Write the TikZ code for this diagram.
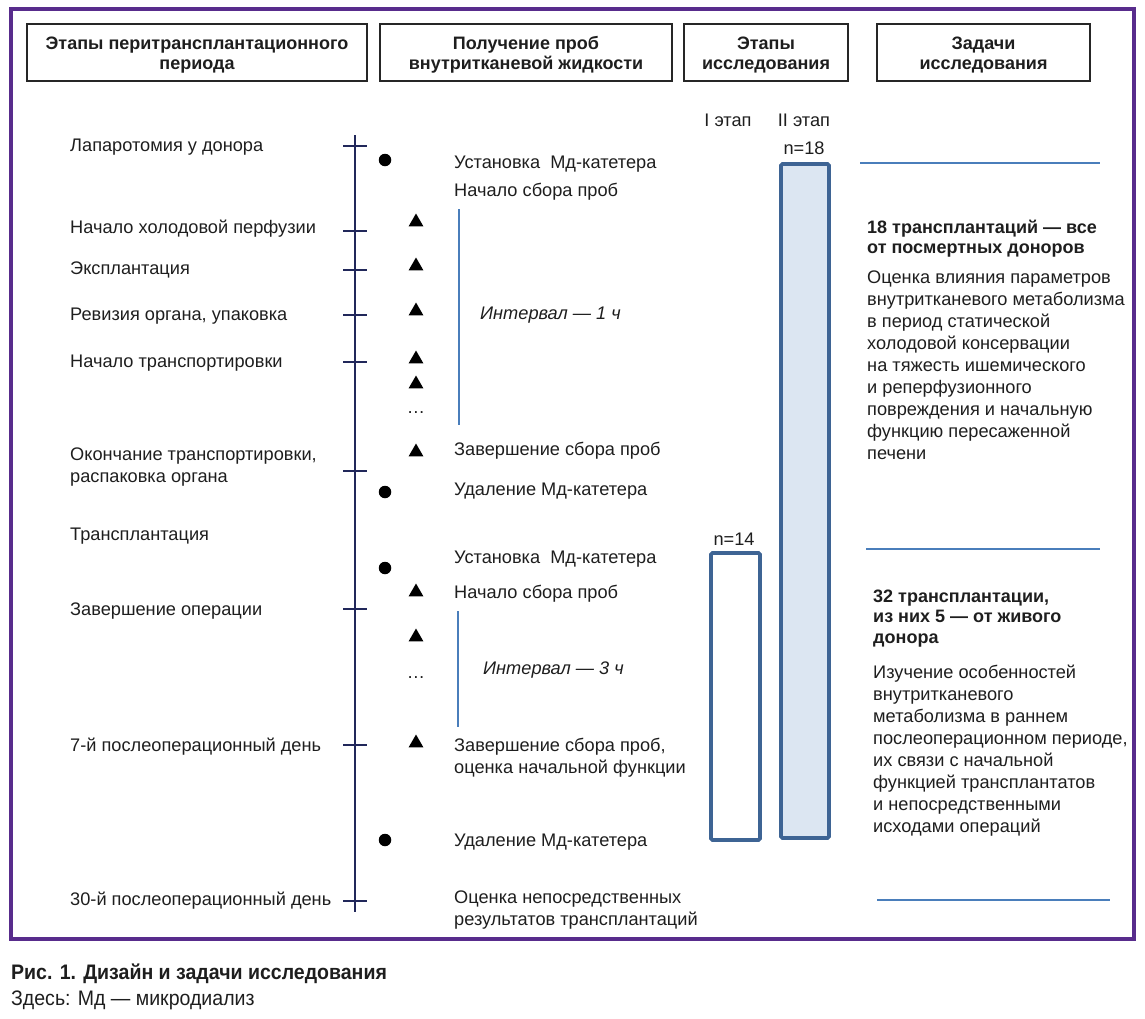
\documentclass[tikz,border=0pt]{standalone}
\usepackage{fontspec}
\setmainfont{Liberation Sans}
\newfontfamily\capfont{Liberation Sans}[FakeStretch=0.93]
\usetikzlibrary{shapes.geometric}
\definecolor{framecol}{RGB}{88,44,140}
\definecolor{navy}{RGB}{33,40,90}
\definecolor{barline}{RGB}{62,100,148}
\definecolor{barfill}{RGB}{220,230,242}
\definecolor{sepblue}{RGB}{74,126,187}
\definecolor{txt}{RGB}{30,30,30}
\tikzset{
  txtf/.style={font=\fontsize{18.2}{22}\selectfont, text=txt, inner sep=0pt},
  lbl/.style={txtf, anchor=base west},
  blk/.style={txtf, anchor=north west, align=left},
  boldblk/.style={inner sep=0pt, text=txt, anchor=north west, align=left, font=\fontsize{18}{20.5}\selectfont\bfseries},
  hbox/.style={draw=black!85, line width=1.2pt, minimum height=57pt, inner sep=0pt},
  htext/.style={align=center, text=txt, inner sep=0pt, font=\fontsize{18}{20}\selectfont\bfseries, yshift=-2.5pt},
  dot/.style={circle, fill=black, inner sep=0pt, minimum size=12.5pt},
  tri/.style={regular polygon, regular polygon sides=3, fill=black, inner sep=0pt, minimum size=17pt},
  tick/.style={navy, line width=2.8pt},
  ival/.style={sepblue, line width=1.6pt},
  sep/.style={sepblue, line width=2.2pt},
  itl/.style={txtf, font=\fontsize{18.2}{22}\selectfont\itshape, anchor=base west},
  bar/.style={draw=barline, line width=3.8pt, rounded corners=1.5pt}
}
\begin{document}
\begin{tikzpicture}[x=1pt,y=-1pt]
\useasboundingbox (0,0) rectangle (1145,1018);
% outer frame
\draw[framecol, line width=3.6pt] (11,9) rectangle (1134,939);
% headers
\node[hbox, minimum width=340pt] (h1) at (197,52.5) {};
\node[hbox, minimum width=292pt] (h2) at (526,52.5) {};
\node[hbox, minimum width=164pt] (h3) at (766,52.5) {};
\node[hbox, minimum width=213pt] (h4) at (983.5,52.5) {};
\node[htext] (h1t) at (h1.center) {Этапы перитрансплантационного\\периода};
\node[htext] (h2t) at (h2.center) {Получение проб\\внутритканевой жидкости};
\node[htext] (h3t) at (h3.center) {Этапы\\исследования};
\node[htext] (h4t) at (h4.center) {Задачи\\исследования};
% timeline
\coordinate (tl0) at (355,135);
\coordinate (tl1) at (355,912);
\draw[navy, line width=2.6pt] (tl0) -- (tl1);
\foreach \y/\n in {146/a,231/b,270/c,315/d,362/e,471/f,609/g,745/h,901/i}{
  \coordinate (tka\n) at (343,\y);
  \coordinate (tkb\n) at (367,\y);
  \draw[tick] (tka\n) -- (tkb\n);
}
% left labels
\node[lbl] (l1) at (70,151) {Лапаротомия у донора};
\node[lbl] (l2) at (70,233) {Начало холодовой перфузии};
\node[lbl] (l3) at (70,274) {Эксплантация};
\node[lbl] (l4) at (70,320) {Ревизия органа, упаковка};
\node[lbl] (l5) at (70,367) {Начало транспортировки};
\node[blk] (l6) at (70,447.5) {Окончание транспортировки,\\распаковка органа};
\node[lbl] (l7) at (70,540) {Трансплантация};
\node[lbl] (l8) at (70,615) {Завершение операции};
\node[lbl] (l9) at (70,751) {7-й послеоперационный день};
\node[lbl] (l10) at (70,905) {30-й послеоперационный день};
% circles
\node[dot] (c1) at (385,160) {};
\node[dot] (c2) at (385,492) {};
\node[dot] (c3) at (385,568) {};
\node[dot] (c4) at (385,840) {};
% triangles
\foreach \y/\n in {222/1,266/2,311/3,359/4,384/5,452/6,592/7,637/8,743/9}{
  \node[tri] (tr\n) at (416,\y) {};
}
\node[txtf, anchor=base] (dd1) at (416,413) {…};
\node[txtf, anchor=base] (dd2) at (416,678) {…};
% interval lines
\coordinate (i1a) at (459,209);
\coordinate (i1b) at (459,425);
\draw[ival] (i1a) -- (i1b);
\coordinate (i2a) at (458,611);
\coordinate (i2b) at (458,727);
\draw[ival] (i2a) -- (i2b);
\node[itl] (it1) at (480,319) {Интервал — 1 ч};
\node[itl] (it2) at (483,674) {Интервал — 3 ч};
% middle labels
\node[lbl] (m1) at (454,168) {Установка\ \ Мд-катетера};
\node[lbl] (m2) at (454,196) {Начало сбора проб};
\node[lbl] (m3) at (454,455) {Завершение сбора проб};
\node[lbl] (m4) at (454,495) {Удаление Мд-катетера};
\node[lbl] (m5) at (454,563) {Установка\ \ Мд-катетера};
\node[lbl] (m6) at (454,598) {Начало сбора проб};
\node[blk] (m7) at (454,738) {Завершение сбора проб,\\оценка начальной функции};
\node[lbl] (m8) at (454,846) {Удаление Мд-катетера};
\node[blk] (m9) at (454,891) {Оценка непосредственных\\результатов трансплантаций};
% study stages
\node[txtf, anchor=base] (s1) at (728,126) {I этап};
\node[txtf, anchor=base] (s2) at (804,126) {II этап};
\node[txtf, anchor=base] (n18) at (804,154) {n=18};
\node[txtf, anchor=base] (n14) at (734,545) {n=14};
\draw[bar, fill=barfill] (781,164) rectangle (829,838);
\draw[bar, fill=white] (711,553) rectangle (760,840);
% separator lines
\coordinate (r1a) at (860,163); \coordinate (r1b) at (1100,163);
\coordinate (r2a) at (866,549); \coordinate (r2b) at (1100,549);
\coordinate (r3a) at (877,900); \coordinate (r3b) at (1110,900);
\draw[sep] (r1a) -- (r1b);
\draw[sep] (r2a) -- (r2b);
\draw[sep] (r3a) -- (r3b);
% right texts
\node[boldblk] (b1) at (867,219.5) {18 трансплантаций — все\\от посмертных доноров};
\node[blk] (t1) at (867,271) {Оценка влияния параметров\\внутритканевого метаболизма\\в период статической\\холодовой консервации\\на тяжесть ишемического\\и реперфузионного\\повреждения и начальную\\функцию пересаженной\\печени};
\node[boldblk] (b2) at (873,589.5) {32 трансплантации,\\из них 5 — от живого\\донора};
\node[blk] (t2) at (873,664.5) {Изучение особенностей\\внутритканевого\\метаболизма в раннем\\послеоперационном периоде,\\их связи с начальной\\функцией трансплантатов\\и непосредственными\\исходами операций};
% caption
\node[anchor=base west, inner sep=0pt, text=txt, font=\fontsize{21}{24}\selectfont\capfont\bfseries] (cap1) at (11,979) {Рис. 1. Дизайн и задачи исследования};
\node[anchor=base west, inner sep=0pt, text=txt, font=\fontsize{21}{24}\selectfont\capfont] (cap2) at (11,1005) {Здесь: Мд — микродиализ};
\end{tikzpicture}
\end{document}
